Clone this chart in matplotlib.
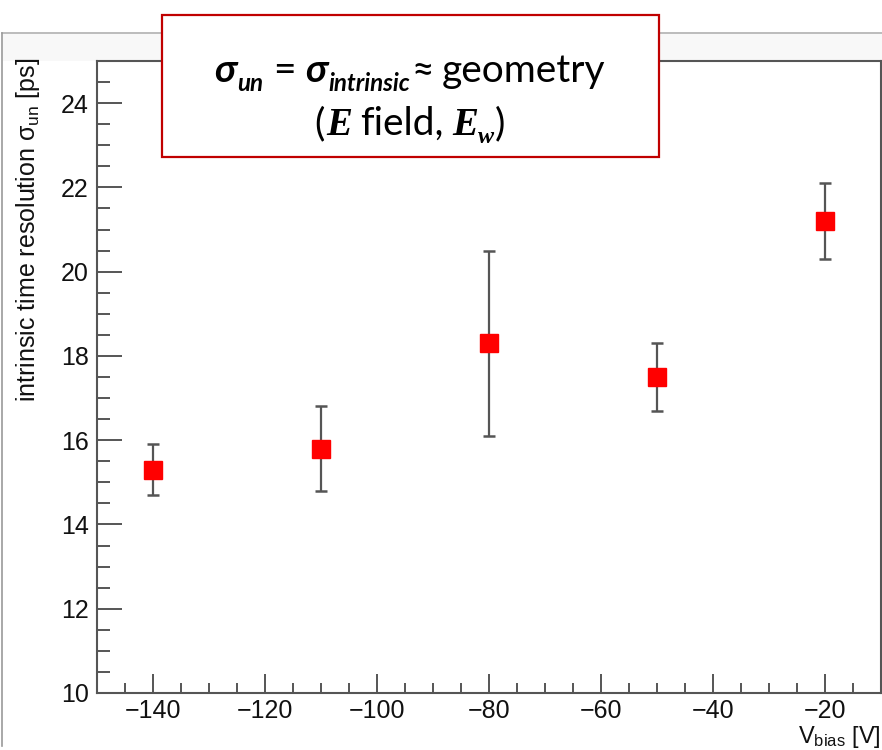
import numpy as np
import matplotlib
matplotlib.use("Agg")
import matplotlib.pyplot as plt
from matplotlib.patches import Rectangle
from matplotlib.lines import Line2D
from matplotlib.ticker import MultipleLocator
from matplotlib.transforms import IdentityTransform

plt.rcParams['font.family'] = ['Liberation Sans', 'DejaVu Sans']
plt.rcParams['mathtext.fontset'] = 'custom'
plt.rcParams['mathtext.rm'] = 'Liberation Sans'
plt.rcParams['mathtext.it'] = 'Liberation Sans:italic'

# ---- data ----
v_bias = [-140, -110, -80, -50, -20]          # V
sigma_un = [15.3, 15.8, 18.3, 17.5, 21.2]     # ps
sigma_err = [0.6, 1.0, 2.2, 0.8, 0.9]         # ps

W, H = 882, 750
fig = plt.figure(figsize=(W / 100, H / 100), dpi=100)
fig.patch.set_facecolor('white')

# ROOT canvas frame
fig.add_artist(Line2D([2 / W, 1], [1 - 33 / H, 1 - 33 / H], color='#b0b0b0', lw=1.2))
fig.add_artist(Line2D([2 / W, 2 / W], [1 - 33 / H, 4 / H], color='#9a9a9a', lw=1.2))
fig.add_artist(Rectangle((3 / W, 1 - 61 / H), 1, 27 / H, transform=fig.transFigure,
                         facecolor='#f8f8f8', edgecolor='none', zorder=-1))

ax = fig.add_axes([97 / W, 57 / H, (881 - 97) / W, (693 - 61) / H])
grey = '#555555'
ax.errorbar(v_bias, sigma_un, yerr=sigma_err, fmt='s', color='red', ms=13.5,
            mec='red', ecolor='#555555', elinewidth=1.6, capsize=4, capthick=1.8,
            zorder=3)

ax.set_xlim(-150, -10)
ax.set_ylim(10, 25)
ax.xaxis.set_major_locator(MultipleLocator(20))
ax.xaxis.set_minor_locator(MultipleLocator(5))
ax.yaxis.set_major_locator(MultipleLocator(2))
ax.yaxis.set_minor_locator(MultipleLocator(0.5))

for s in ax.spines.values():
    s.set_color(grey)
    s.set_linewidth(1.5)

ax.tick_params(axis='both', which='both', direction='in', color=grey, width=1.4,
               labelsize=18, labelcolor='#111111')
ax.tick_params(axis='y', which='major', length=18, pad=6)
ax.tick_params(axis='y', which='minor', length=9)
ax.tick_params(axis='x', which='major', length=14, pad=4)
ax.tick_params(axis='x', which='minor', length=7)
ax.xaxis.set_major_formatter(plt.FuncFormatter(
    lambda v, p: f"\u2212{abs(int(v))}" if v < 0 else f"{int(v)}"))

fig.text(28 / W, 1 - 58 / H, "intrinsic time resolution \u03c3$_{\\rm un}$ [ps]",
         rotation=90, ha='center', va='top', fontsize=18, color='#111111')
fig.text(881 / W, 1 - 743 / H, r"V$_{\rm bias}$ [V]", ha='right', va='baseline',
         fontsize=17, color='#111111')

# ---- annotation box ----
fig.add_artist(Rectangle((162 / W, 1 - 157 / H), (659 - 162) / W, (157 - 15) / H,
                         transform=fig.transFigure, facecolor='white',
                         edgecolor='#c00000', lw=1.6, zorder=10))

S = 28
sans = ['Lato', 'Noto Sans', 'DejaVu Sans']
serif = ['Liberation Serif', 'DejaVu Serif']
bi = dict(family=sans, weight='bold', style='italic')
rg = dict(family=sans)
sbi = dict(family=serif, weight='bold', style='italic')

# (text, font, size scale, baseline shift, gap before) in units of the font size
line1 = [("\u03c3", bi, 1.0, 0, 0), ("un", bi, 0.62, -0.22, 0.02),
         ("=", rg, 1.0, 0, 0.25), ("\u03c3", bi, 1.0, 0, 0.25),
         ("intrinsic", bi, 0.62, -0.22, 0.02), ("\u2248", rg, 1.0, 0, 0.05),
         ("geometry", rg, 1.0, 0, 0.2)]
line2 = [("(", rg, 1.0, 0, 0), ("E", sbi, 1.0, 0, 0.02), ("field,", rg, 1.0, 0, 0.22),
         ("E", sbi, 1.0, 0, 0.22), ("w", sbi, 0.62, -0.2, 0.0), (")", rg, 1.0, 0, 0.02)]

renderer = fig.canvas.get_renderer()


def rich_line(pieces, cx, ybase):
    arts, widths = [], []
    for s, kw, scale, dy, gap in pieces:
        t = fig.text(0, 0, s, fontsize=S * scale, transform=IdentityTransform(),
                     ha='left', va='baseline', zorder=11, color='black', **kw)
        arts.append(t)
        widths.append(t.get_window_extent(renderer).width)
    px = S * 100 / 72
    total = sum(widths) + sum(p[4] * px for p in pieces)
    x = cx - total / 2
    for t, w, (s, kw, scale, dy, gap) in zip(arts, widths, pieces):
        x += gap * px
        t.set_position((x, ybase + dy * px))
        x += w


rich_line(line1, 410, H - 82)
rich_line(line2, 410, H - 135)

fig.savefig('out.png', dpi=100)
